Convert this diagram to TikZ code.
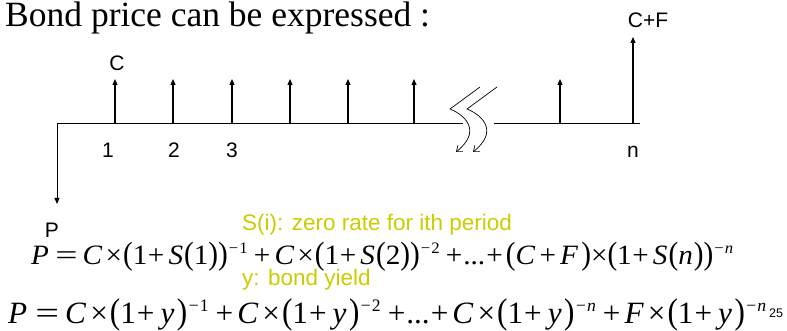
\documentclass[tikz,border=0pt]{standalone}
\usepackage{fontspec}
\setmainfont{Liberation Serif}
\newfontfamily\arial{Liberation Sans}
\usetikzlibrary{arrows.meta}
\definecolor{ylw}{RGB}{204,204,0}
\newcommand{\vi}[1]{\textit{#1}}
\newcommand{\lp}{\scalebox{1}[1.15]{(}}
\newcommand{\rp}{\scalebox{1}[1.15]{)}}
\newcommand{\ex}[1]{\kern1pt\raisebox{0.36em}{\fontsize{16}{16}\selectfont #1}}
\newcommand{\exb}[1]{\kern1.5pt\raisebox{0.36em}{\fontsize{17.5}{17.5}\selectfont #1}}
\newcommand{\mi}{−\kern1pt}
\newcommand{\Eq}{\kern6pt\scalebox{1.35}[1]{=}\kern5pt}
\newcommand{\Ti}{\kern3pt×\kern1pt}
\newcommand{\Pl}{\kern0.5pt+\kern4pt}
\newcommand{\Bp}{\kern6pt+\kern4pt}
\newcommand{\Bd}{\kern6pt+\kern1pt...\kern1pt+\kern3pt}
\newcommand{\yy}{\vi{y}\kern2.5pt}
\newcommand{\EqB}{\kern8pt\scalebox{1.35}[1]{=}\kern6pt}
\newcommand{\TiB}{\kern4pt×\kern2pt}
\newcommand{\PlB}{\kern1pt+\kern6pt}
\newcommand{\BpB}{\kern7pt+\kern4pt}
\newcommand{\BdB}{\kern7pt+\kern1pt...\kern1pt+\kern4pt}
\tikzset{
  lbl/.style={font=\arial\fontsize{21}{21}\selectfont, inner sep=0pt},
  up/.style={line width=1.2pt, -{Triangle[length=6pt,width=5pt]}},
  tl/.style={line width=0.9pt},
  brk/.style={line width=0.7pt, -{Straight Barb[length=5pt,width=8pt]}},
  note/.style={font=\arial\fontsize{22.5}{22.5}\selectfont, text=ylw, inner sep=0pt, anchor=base west},
  eqn/.style={inner sep=0pt, anchor=base west}
}
\begin{document}
\begin{tikzpicture}[x=1pt,y=-1pt]
\useasboundingbox (0,0) rectangle (787,331);
% title
\node[inner sep=0pt, anchor=base west, font=\fontsize{35.5}{36}\selectfont] (title) at (5,27) {Bond price can be expressed :};
% timeline
\coordinate (o) at (57,123);
\coordinate (b1) at (463,123);
\coordinate (b2) at (494,123);
\coordinate (e) at (640,123);
\draw[tl] (o) -- (b1);
\draw[tl] (b2) -- (e);
\coordinate (pd) at (57,204);
\draw[line width=0.9pt, -{Triangle[length=6pt,width=5pt]}] (o) -- (pd);
% up arrows
\foreach \x/\n in {115/a1,173/a2,232/a3,290/a4,348/a5,414/a6,560/a7}{
  \coordinate (\n b) at (\x,123);
  \coordinate (\n t) at (\x,79);
  \draw[up] (\n b) -- (\n t);
}
\coordinate (anb) at (633,123);
\coordinate (ant) at (633,37);
\draw[up] (anb) -- (ant);
% labels
\node[lbl] (c) at (117,63) {C};
\node[lbl] (cf) at (648,20) {C+F};
\node[lbl] (l1) at (108,150) {1};
\node[lbl] (l2) at (174,150) {2};
\node[lbl] (l3) at (232,150) {3};
\node[lbl, anchor=base] (ln) at (633,158) {n};
\node[lbl] (p) at (52,230) {P};
% break symbol
\draw[brk] (480,87) -- (450,109) .. controls (467,116) and (481,132) .. (456,152);
\draw[brk] (497,87) -- (467,109) .. controls (484,116) and (498,132) .. (473,152);
% notes
\node[note] (n1) at (242,231) {S(i): zero rate for ith period};
\node[note] (n2) at (242,285) {y: bond yield};
% equations
\node[eqn] (eq1) at (31,264) {\resizebox{702pt}{\height}{\fontsize{28}{28}\selectfont
\vi{P}\Eq\vi{C}\Ti\lp1\Pl\vi{S}\kern1pt\lp1\rp\rp\ex{\mi1}\Bp\vi{C}\Ti\lp1\Pl\vi{S}\kern1pt\lp2\rp\rp\ex{\mi2}\Bd\lp\vi{C}\kern4pt+\kern4pt\vi{F}\kern3pt\rp×\lp1\Pl\vi{S}\kern1pt\lp\vi{n}\kern1pt\rp\rp\ex{\mi\vi{n}}}};
\node[eqn] (eq2) at (8,323) {\resizebox{758pt}{\height}{\fontsize{31}{31}\selectfont
\vi{P}\EqB\vi{C}\TiB\lp1\PlB\yy\rp\exb{\mi1}\BpB\vi{C}\TiB\lp1\PlB\yy\rp\exb{\mi2}\BdB\vi{C}\TiB\lp1\PlB\yy\rp\exb{\mi\vi{n}}\BpB\vi{F}\TiB\lp1\PlB\yy\rp\exb{\mi\vi{n}}}};
\node[inner sep=0pt, anchor=base west, font=\arial\fontsize{12.5}{12.5}\selectfont] (pg) at (769,317) {25};
\end{tikzpicture}
\end{document}
